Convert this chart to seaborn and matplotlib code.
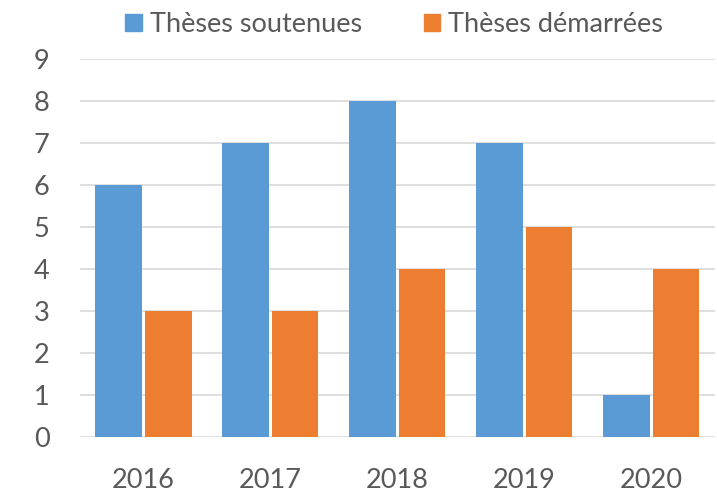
import pandas as pd
import matplotlib.pyplot as plt
import seaborn as sns

# data
years = ['2016', '2017', '2018', '2019', '2020']
soutenues = [6, 7, 8, 7, 1]
demarrees = [3, 3, 4, 5, 4]
series = ['Thèses soutenues', 'Thèses démarrées']

df = pd.DataFrame({
    'Année': years * 2,
    'Nombre': soutenues + demarrees,
    'Type': [series[0]] * len(years) + [series[1]] * len(years),
})

sns.set_style('white')
plt.rcParams['font.family'] = ['Lato', 'DejaVu Sans']

fig = plt.figure(figsize=(7.17, 4.91), dpi=100)
ax = fig.add_axes([0.1116, 0.110, 0.8854, 0.770])

sns.barplot(data=df, x='Année', y='Nombre', hue='Type',
            palette=['#5B9BD5', '#ED7D31'], width=0.78, gap=0.06,
            saturation=1, linewidth=0, ax=ax)

## axes styling like the original (light grid, no frame)
ax.set_ylim(0, 9)
ax.set_xlim(-0.5, 4.5)
ax.set_yticks(range(0, 10))
ax.yaxis.grid(True, color='#D9D9D9', linewidth=1.2)
ax.set_axisbelow(True)
for s in ax.spines.values():
    s.set_visible(False)
ax.set_xlabel('')
ax.set_ylabel('')
ax.tick_params(axis='both', length=0, labelsize=19.5, labelcolor='#595959')
ax.tick_params(axis='x', pad=22)
ax.tick_params(axis='y', pad=22)

ax.legend_.remove()
handles = [plt.Rectangle((0, 0), 1, 1, color=c) for c in ['#5B9BD5', '#ED7D31']]
fig.legend(handles, series, loc='upper center', bbox_to_anchor=(0.55, 1.025),
           ncol=2, frameon=False, fontsize=19.5, labelcolor='#595959',
           handlelength=0.6, handleheight=0.6, handletextpad=0.3, columnspacing=2.3)

plt.savefig('out.png', dpi=100)
